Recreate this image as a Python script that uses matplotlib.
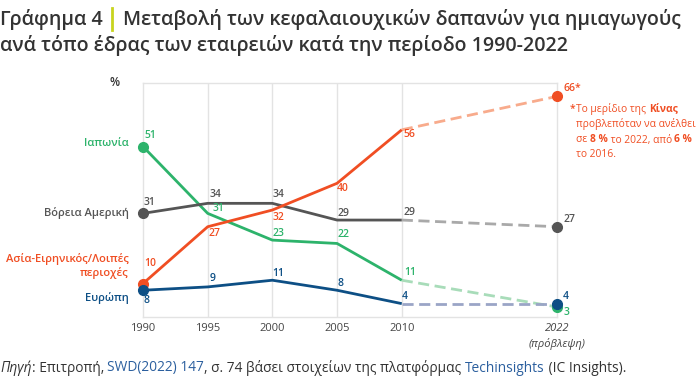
import matplotlib
matplotlib.use('Agg')
import matplotlib.pyplot as plt
from matplotlib.lines import Line2D

plt.rcParams['font.family'] = ['Open Sans', 'DejaVu Sans']

# ---------------- data ----------------
years = [1990, 1995, 2000, 2005, 2010]
proj_year = 2022
tick_years = [1990, 1995, 2000, 2005, 2010, 2022]
tick_labels = ['1990', '1995', '2000', '2005', '2010', '2022']

japan = [51, 31, 23, 22, 11]
japan_proj = 3
north_america = [31, 34, 34, 29, 29]
north_america_proj = 27
asia = [10, 27, 32, 40, 56]
asia_proj = 66
europe = [8, 9, 11, 8, 4]
europe_proj = 4

series_names = ['Ιαπωνία', 'Βόρεια Αμερική', 'Ασία-Ειρηνικός/Λοιπές\nπεριοχές', 'Ευρώπη']

# ---------------- styles ----------------
W, H = 700, 378
C_GREEN, C_GREEN_L = '#2db36b', '#a8dcb9'
C_GRAY, C_GRAY_L = '#555555', '#a9a9a9'
C_RED, C_RED_L = '#f04e23', '#f8ab8c'
C_BLUE, C_BLUE_L = '#0d4f85', '#9aa5c6'
C_TEXT = '#333333'

fig = plt.figure(figsize=(7, 3.78), dpi=100)
ax = fig.add_axes([143 / W, 1 - 317 / H, (557 - 143) / W, (317 - 83) / H])
ax.set_xlim(1990, 2022)
ax.set_ylim(0, 70)

for s in ax.spines.values():
    s.set_color('#e3e3e3')
    s.set_linewidth(1.0)
for x in [1995, 2000, 2005, 2010]:
    ax.axvline(x, color='#e3e3e3', lw=1.0, zorder=0)

ax.set_yticks([])
ax.set_xticks(tick_years)
ax.set_xticklabels(tick_labels)
ax.tick_params(axis='x', length=0, pad=4, labelsize=8, labelcolor='#444444')
ax.get_xticklabels()[-1].set_style('italic')
ax.text(2022, -0.09, '(πρόβλεψη)', transform=ax.get_xaxis_transform(),
        ha='center', va='top', fontsize=8, style='italic', color='#444444')

# label offsets (pixels) per point: (dx, dy)
offs = {
    'jp': [(1, 11), (5, 5), (0, 7), (0, 9), (2, 8), (7, -6)],
    'na': [(1, 11), (2, 9), (0, 9), (0, 7), (2, 8), (6, 7)],
    'as': [(1, 20), (1, -7), (0, -7), (0, -5), (2, -5), (6, 8)],
    'eu': [(0, -10), (2, 8), (0, 7), (0, 7), (0, 7), (6, 7)],
}

specs = [
    ('jp', japan, japan_proj, C_GREEN, C_GREEN_L),
    ('na', north_america, north_america_proj, C_GRAY, C_GRAY_L),
    ('as', asia, asia_proj, C_RED, C_RED_L),
    ('eu', europe, europe_proj, C_BLUE, C_BLUE_L),
]

for key, vals, pv, c, cl in specs:
    ax.plot(years, vals, color=c, lw=2.0, solid_capstyle='butt', zorder=3, clip_on=False)
    ax.plot([years[-1], proj_year], [vals[-1], pv], color=cl, lw=2.0,
            dashes=(4, 2), zorder=2, clip_on=False)
for key, vals, pv, c, cl in specs:
    ax.plot([years[0]], [vals[0]], 'o', color=c, ms=7, zorder=4, clip_on=False)
    ax.plot([proj_year], [pv], 'o', color=c, ms=7, zorder=4, clip_on=False)
    xs = years + [proj_year]
    vs = vals + [pv]
    for i, (x, v) in enumerate(zip(xs, vs)):
        dx, dy = offs[key][i]
        lab = str(v) + ('*' if (key == 'as' and i == len(xs) - 1) else '')
        ax.annotate(lab, (x, v), xytext=(dx, dy), textcoords='offset pixels',
                    ha='left', va='center', fontsize=7.5, fontweight='semibold',
                    color=c, annotation_clip=False, zorder=5)

# left series labels
left_pos = [(129, 144, C_GREEN), (129, 213, C_GRAY), (129, 266, C_RED), (129, 298, C_BLUE)]
for name, (x, y, c) in zip(series_names, left_pos):
    fig.text(x / W, 1 - y / H, name, ha='right', va='center', fontsize=8,
             fontweight='semibold', color=c, linespacing=1.3)

fig.text(115 / W, 1 - 82 / H, '%', ha='center', va='center', fontsize=8.5,
         fontweight='semibold', color=C_TEXT)

# ---------------- rich text helper ----------------
fig.canvas.draw()
renderer = fig.canvas.get_renderer()


def rich(x, y, segments, size, color):
    """segments: list of (text, weight, style, color or None)"""
    cur = x
    for txt, weight, style, col in segments:
        t = fig.text(cur / W, 1 - y / H, txt, ha='left', va='center', fontsize=size,
                     fontweight=weight, style=style, color=col or color)
        bb = t.get_window_extent(renderer)
        cur += bb.width
    return cur


# title
TS = 14.1
end = rich(0, 19, [('Γράφημα 4', 'semibold', 'normal', None)], TS, C_TEXT)
bar_x = end + 9
fig.add_artist(Line2D([bar_x / W, bar_x / W], [1 - 8 / H, 1 - 30 / H], color='#c8d41e', lw=2.0))
rich(bar_x + 11, 19, [('Μεταβολή των κεφαλαιουχικών δαπανών για ημιαγωγούς', 'semibold', 'normal', None)], TS, C_TEXT)
rich(0, 46, [('ανά τόπο έδρας των εταιρειών κατά την περίοδο 1990-2022', 'semibold', 'normal', None)], TS, C_TEXT)

# annotation
AS = 7.4
fig.text(570 / W, 1 - 109 / H, '*', ha='left', va='center', fontsize=AS, color=C_RED, fontweight='semibold')
rich(576, 109, [('Το μερίδιο της\u00a0', 'normal', 'normal', None), ('Κίνας', 'bold', 'normal', None)], AS, C_RED)
rich(576, 124, [('προβλεπόταν να ανέλθει', 'normal', 'normal', None)], AS, C_RED)
rich(576, 140, [('σε\u00a0', 'normal', 'normal', None), ('8 %', 'bold', 'normal', None),
                ('\u00a0το 2022, από\u00a0', 'normal', 'normal', None), ('6 %', 'bold', 'normal', None)], AS, C_RED)
rich(576, 155, [('το 2016.', 'normal', 'normal', None)], AS, C_RED)

# footer
FS = 9.9
BLUE_LINK = '#2b5f9e'
rich(0, 368, [('Πηγή', 'normal', 'italic', None), (':\u00a0Επιτροπή,\u00a0', 'normal', 'normal', None),
              ('SWD(2022) 147', 'normal', 'normal', BLUE_LINK),
              (', σ. 74 βάσει στοιχείων της πλατφόρμας\u00a0', 'normal', 'normal', None),
              ('Techinsights', 'normal', 'normal', BLUE_LINK),
              ('\u00a0(IC Insights).', 'normal', 'normal', None)], FS, C_TEXT)

fig.savefig('out.png', dpi=100)
